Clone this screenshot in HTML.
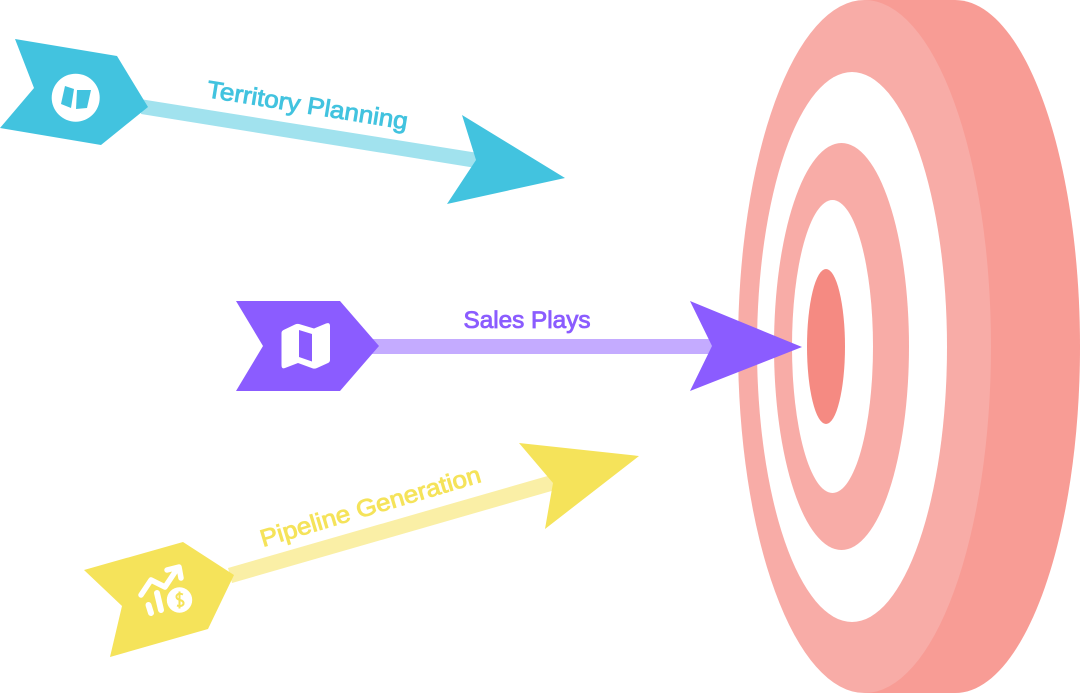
<!DOCTYPE html>
<html><head><meta charset="utf-8"><style>html,body{margin:0;padding:0;background:#fff;width:1080px;height:694px;overflow:hidden}svg{display:block}text{font-family:"Liberation Sans",sans-serif;font-weight:400;stroke-width:.85}</style></head><body>
<svg width="1080" height="694" viewBox="0 0 1080 694" xmlns="http://www.w3.org/2000/svg">
<rect width="1080" height="694" fill="#fff"/>
<!-- target -->
<path d="M865 0H955C1024 0 1080 155 1080 346.500S1024 693 955 693H865Z" fill="#F89C95"/>
<ellipse cx="864.500" cy="346.500" rx="126.500" ry="346.500" fill="#F8ACA7"/>
<ellipse cx="852" cy="347" rx="95" ry="275" fill="#fff"/>
<ellipse cx="841.500" cy="346.500" rx="67.500" ry="203.500" fill="#F8ACA7"/>
<ellipse cx="832.500" cy="346.500" rx="40.500" ry="146.500" fill="#fff"/>
<ellipse cx="826" cy="346.500" rx="19" ry="77.500" fill="#F58A82"/>
<!-- cyan arrow -->
<polygon points="143,99.500 478,153 476,168 141,114" fill="#A1E2EE"/>
<polygon points="462,115 565,178 447,204 476,160" fill="#42C3DF"/>
<polygon points="15,39 117,56 148,107 101,145 0,128 34,88" fill="#42C3DF"/>
<circle cx="75.700" cy="97.700" r="24" fill="#fff"/>
<path d="M65 86L74 89L71 108L61 104Z" fill="#42C3DF"/><path d="M77 90L91 90L87 108L76 109Z" fill="#42C3DF"/>
<text x="206" y="97" transform="rotate(9.200 206 97)" font-size="24" fill="#42C3DF" stroke="#42C3DF" textLength="203" lengthAdjust="spacingAndGlyphs">Territory Planning</text>
<!-- purple arrow -->
<rect x="370" y="339" width="345" height="15" fill="#C4ABFF"/>
<polygon points="690,301 802,347 690,391 712,346" fill="#8B5CFF"/>
<polygon points="236,301 340,301 379,346 340,391 236,391 263,346" fill="#8B5CFF"/>
<path d="M281.500 333Q281.500 331 283.500 330L295 324.500Q297 323.500 299 324L314 328.500L326 323.500Q330 322 330 326V360Q330 362 328 363L317 368Q315 369 313 368.500L298 363L285 368Q281.500 369.500 281.500 365Z" fill="#fff"/>
<polygon points="299,330 312,334 312,361.500 299,357" fill="#8B5CFF"/>
<text x="463.500" y="328" font-size="24" fill="#8B5CFF" stroke="#8B5CFF" textLength="127" lengthAdjust="spacingAndGlyphs">Sales Plays</text>
<!-- yellow arrow -->
<polygon points="228,568 551,475 555,490 232,583" fill="#FAEFA6"/>
<polygon points="519,443 639,456 545,529 553,483" fill="#F5E35A"/>
<polygon points="84,570 183,542 234,575 208,629 110,657 122,606" fill="#F5E35A"/>
<path d="M141 595L151 580L165 587L177 569" fill="none" stroke="#fff" stroke-width="5.500" stroke-linecap="round" stroke-linejoin="round"/>
<path d="M167 570L179 567L181 578" fill="none" stroke="#fff" stroke-width="5.500" stroke-linecap="round" stroke-linejoin="round"/>
<path d="M148.500 605L151 613M157 593L161 610" fill="none" stroke="#fff" stroke-width="6" stroke-linecap="round"/>
<circle cx="179.500" cy="600" r="12.700" fill="#fff"/>
<path d="M183 594.500Q178 592.500 176.500 596Q176 599 180 600Q184 601 183.500 604Q182 607 177 605.500M179.500 591.500V608.500" fill="none" stroke="#F5E35A" stroke-width="2"/>
<text x="263" y="547" transform="rotate(-16.600 263 547)" font-size="24" fill="#F5E35A" stroke="#F5E35A" textLength="229" lengthAdjust="spacingAndGlyphs">Pipeline Generation</text>
</svg>
</body></html>
